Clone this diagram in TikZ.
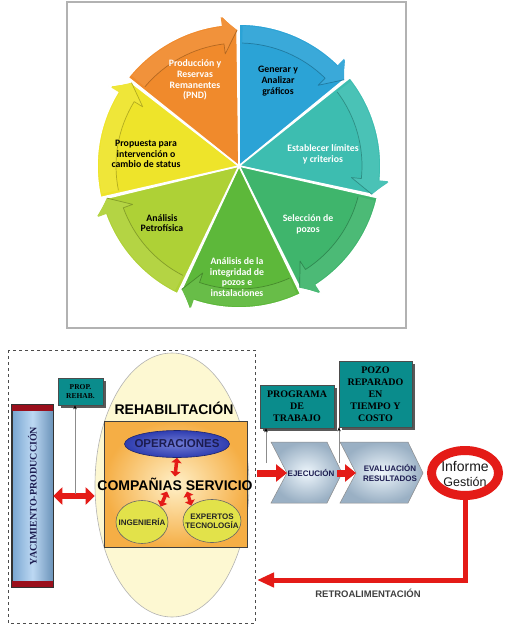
\documentclass[tikz,border=0pt]{standalone}
\usepackage{fontspec}
\setmainfont{Liberation Serif}
\setsansfont{Liberation Sans}
\newfontfamily\piefont{Carlito}
\usetikzlibrary{shapes.geometric,arrows.meta,shadows,calc}

\definecolor{cOrange}{HTML}{F08A2C}
\definecolor{cBlue}{HTML}{2BA3D6}
\definecolor{cTeal}{HTML}{3DBDB0}
\definecolor{cGreenT}{HTML}{3FB56C}
\definecolor{cGreen}{HTML}{5DB83A}
\definecolor{cYGreen}{HTML}{AED136}
\definecolor{cYellow}{HTML}{EEE42A}
\definecolor{boxteal}{HTML}{0A8C8C}
\definecolor{arrred}{HTML}{E41B17}
\definecolor{darkred}{HTML}{9A0F1C}
\definecolor{cream}{HTML}{FDF8D2}
\definecolor{barblue}{HTML}{86B8E8}
\definecolor{opsblue}{HTML}{3444C4}
\definecolor{ingyel}{HTML}{E2E24A}
\definecolor{chevout}{HTML}{9AB0C4}
\definecolor{chevin}{HTML}{EEF6FC}
\definecolor{boxin}{HTML}{FFF0C8}
\definecolor{boxout}{HTML}{F5AE45}
\definecolor{navytext}{HTML}{1C1C50}

\newcommand{\myfs}[2]{\fontsize{#1}{#2}\selectfont}

\tikzset{
  sector/.style={draw=white, line width=1.6pt, line join=round},
  pietxt/.style={font=\piefont\bfseries\myfs{9.8}{10.8}, align=center, inner sep=0},
  tealbox/.style={draw=black!70, fill=boxteal, line width=0.6pt, inner sep=0,
    font=\rmfamily\bfseries\myfs{10}{12}, align=center,
    drop shadow={shadow xshift=2.5pt, shadow yshift=-2.5pt, fill=black!65, opacity=1}},
  dblred/.style={draw=arrred, line width=5.5pt, {Triangle[length=9pt,width=17pt]}-{Triangle[length=9pt,width=17pt]}},
  dblreds/.style={draw=arrred, line width=3.5pt, {Triangle[length=5pt,width=10pt]}-{Triangle[length=5pt,width=10pt]}},
  redarr/.style={draw=arrred, line width=7pt, -{Triangle[length=11pt,width=17pt]}},
  grayarr/.style={draw=black!45, line width=0.8pt, -{Stealth[length=4pt,width=3.5pt,black]}},
  chevron/.style={draw=black!45, line width=0.5pt, inner color=chevin, outer color=chevout},
  smallell/.style={ellipse, draw=black!60, line width=0.6pt, fill=ingyel, inner sep=0},
}

\begin{document}
\begin{tikzpicture}[x=1pt,y=-1pt]
\useasboundingbox (0,0) rectangle (504,629);
\fill[white] (0,0) rectangle (504,629);

% ---------- pie picture ----------
\draw[black!30, line width=1.3pt] (67,2) rectangle (406,328);
\begin{scope}[shift={(239,166)}, yscale=-1]
  \foreach \c [count=\k from 0] in {cBlue,cTeal,cGreenT,cGreen,cYGreen,cYellow,cOrange} {
    \pgfmathsetmacro\a{90-51.4286*\k}
    \pgfmathsetmacro\aa{\a-1.5}
    \pgfmathsetmacro\b{\a-51.4286}
    \pgfmathsetmacro\bb{\b+7}
    \pgfmathsetmacro\bt{\b+0.8}
    \filldraw[sector, fill=\c] (0,0) -- (\a:142) arc[start angle=\a, end angle=\bb, radius=142]
       -- (\bb:153) -- (\bt:136) -- cycle;
    \fill[\c!93!white] (\aa:140) arc[start angle=\aa, end angle=\bb, radius=140] -- (\bb:150) -- (\bt:136)
       -- (\bb:113) -- (\bb:123) arc[start angle=\bb, end angle=\aa, radius=123] -- cycle;
    \draw[\c!75!black, line width=0.7pt, line join=round] (\aa:123) arc[start angle=\aa, end angle=\bb, radius=123]
       -- (\bb:113) -- (\bt:136);
  }
\end{scope}
\node[pietxt, text=white] (p1) at (195,80) {Producción y\\Reservas\\Remanentes\\(PND)};
\node[pietxt, text=black] (p2) at (278,81) {Generar y\\Analizar\\gráficos};
\node[pietxt, text=white] (p3) at (323,154) {Establecer límites\\y criterios};
\node[pietxt, text=white] (p4) at (308,224) {Selección de\\pozos};
\node[pietxt, text=white] (p5) at (237,277) {Análisis de la\\integridad de\\pozos e\\instalaciones};
\node[pietxt, text=black] (p6) at (162,223) {Análisis\\Petrofísica};
\node[pietxt, text=black] (p7) at (146,154) {Propuesta para\\intervención o\\cambio de status};

% ---------- lower diagram ----------
\draw[dashed, black!70, line width=0.7pt] (8,350) rectangle (255,623);

% Yacimiento bar
\node[draw=black!80, line width=0.6pt, minimum width=41pt, minimum height=182pt, inner sep=0,
      left color=barblue!90!black, right color=barblue!80!black, middle color=barblue!55!white] (yac) at (32.5,496) {};
\fill[darkred] (yac.north west) rectangle ([yshift=-6pt]yac.north east);
\fill[darkred] (yac.south west) rectangle ([yshift=6pt]yac.south east);
\draw[black!80, line width=0.6pt] (yac.north west) rectangle (yac.south east);
\node[rotate=90, font=\rmfamily\bfseries\myfs{10}{12}, text=navytext] (yact) at (yac.center) {YACIMIENTO-PRODUCCIÓN};

% Prop rehab
\node[tealbox, font=\rmfamily\bfseries\myfs{7.5}{9}, minimum width=45pt, minimum height=27pt] (prop) at (80.5,391.5) {PROP.\\REHAB.};

% Rehabilitacion ellipse
\node[ellipse, draw=black!30, line width=0.6pt, fill=cream, minimum width=154pt, minimum height=264pt, inner sep=0] (rehab) at (172,485) {};
\node[font=\sffamily\bfseries\myfs{14}{16}] (rehabt) at (174,408) {REHABILITACIÓN};
\node[draw=black!75, line width=0.6pt, minimum width=143pt, minimum height=126pt, inner sep=0,
      inner color=boxin, outer color=boxout] (cia) at (175.5,484) {};
\node[ellipse, draw=opsblue!55!black, line width=0.6pt, inner color=opsblue!70!white, outer color=opsblue!90!black,
      minimum width=105pt, minimum height=27pt, inner sep=0] (ops) at (177,444) {};
\node[font=\sffamily\bfseries\myfs{11.5}{13}, text=navytext] (opst) at (ops.center) {OPERACIONES};
\node[font=\sffamily\bfseries\myfs{14}{16}, inner sep=1pt] (cs) at (175,484) {COMPAÑIAS SERVICIO};
\node[smallell, minimum width=52pt, minimum height=43pt] (ing) at (142,522) {};
\node[font=\sffamily\bfseries\myfs{8}{9}, text=black!85] (ingt) at (ing.center) {INGENIERÍA};
\node[smallell, minimum width=58pt, minimum height=43pt] (exp) at (212,521) {};
\node[font=\sffamily\bfseries\myfs{8}{9.5}, text=black!85, align=center] (expt) at (exp.center) {EXPERTOS\\TECNOLOGÍA};

\draw[dblreds] (ops.south) -- (cs.north);
\draw[dblreds] ($(cs.south)+(-8,0)$) -- (ing.north east);
\draw[dblreds] ($(cs.south)+(12,0)$) -- (exp.north west);

% yacimiento <-> rehabilitacion
\draw[dblred] (yac.east) -- (yac.east -| rehab.west);
\coordinate (pa) at (75,494);
\draw[grayarr] (pa) -- (pa |- prop.south);

% right side boxes
\node[tealbox, minimum width=74pt, minimum height=43pt] (prog) at (297,406.5) {PROGRAMA\\DE\\TRABAJO};
\node[tealbox, minimum width=73pt, minimum height=66pt] (pozo) at (375.5,394) {POZO\\REPARADO\\EN\\TIEMPO Y\\COSTO};

% chevrons
\path[chevron] (271,442) -- (327,442) -- (342,473) -- (327,503) -- (271,503) -- (287,473) -- cycle;
\path[chevron] (340,442) -- (408,442) -- (423,473) -- (408,503) -- (340,503) -- (356,473) -- cycle;
\coordinate (ej-in) at (287,473);
\coordinate (ej-tip) at (342,473);
\coordinate (ev-in) at (356,473);
\node[font=\sffamily\bfseries\myfs{8}{10}, text=navytext] (ej) at (311,473) {EJECUCIÓN};
\node[font=\sffamily\bfseries\myfs{8}{10}, text=navytext, align=center] (ev) at (390,473) {EVALUACIÓN\\RESULTADOS};

\coordinate (g1) at (266,463);
\coordinate (g2) at (339,463);
\draw[grayarr] (g1) -- (g1 |- prog.south);
\draw[grayarr] (g2) -- (g2 |- pozo.south);

\coordinate (r1) at (257,473);
\draw[redarr] (r1) -- (ej-in);
\draw[redarr] ([xshift=-5pt]ej-tip) -- (ev-in);

% Informe gestion
\node[ellipse, draw=arrred, line width=9pt, fill=white, minimum width=67pt, minimum height=45pt, inner sep=0] (inf) at (465,473) {};
\node[font=\sffamily\myfs{14}{15}, align=center, text=black!90] (inft) at (465,474) {Informe\\{\myfs{12.5}{15}Gestión}};

\coordinate (rend) at (257,580);
\draw[draw=arrred, line width=5pt, -{Triangle[length=17pt,width=14pt]}] (inf.south) |- (rend);
\node[font=\sffamily\bfseries\myfs{9.5}{11}, text=black!75] (retro) at (368,593) {RETROALIMENTACIÓN};
\end{tikzpicture}
\end{document}
